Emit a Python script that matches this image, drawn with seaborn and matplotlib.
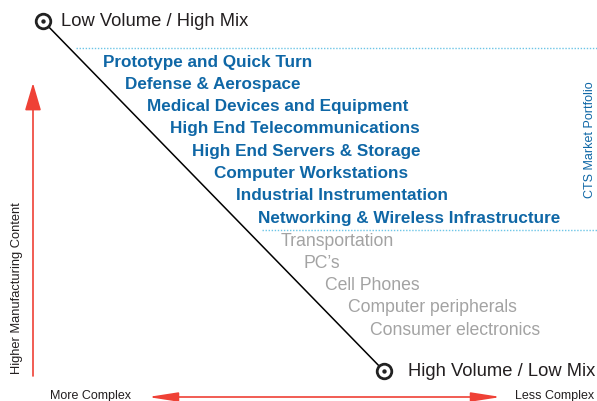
"""
CTS market portfolio diagram: volume/mix diagonal with market segments.
"""

import matplotlib
matplotlib.use("Agg")
import matplotlib.pyplot as plt
import seaborn as sns
import pandas as pd

sns.set_style("white")
plt.rcParams['font.family'] = ['Liberation Sans', 'DejaVu Sans']

# Data
portfolio_markets = ['Prototype and Quick Turn', 'Defense & Aerospace',
                     'Medical Devices and Equipment', 'High End Telecommunications',
                     'High End Servers & Storage', 'Computer Workstations',
                     'Industrial Instrumentation', 'Networking & Wireless Infrastructure']
other_markets = ['Transportation', "PC\u2019s", 'Cell Phones',
                 'Computer peripherals', 'Consumer electronics']
ends = ['Low Volume / High Mix', 'High Volume / Low Mix']
side_label = 'CTS Market Portfolio'
y_label = 'Higher Manufacturing Content'
x_labels = ['More Complex', 'Less Complex']

BLUE = '#0f67a6'
GRAY = '#a3a3a3'
RED = '#ef4136'
DOT = '#6cc5e6'

fig, ax = plt.subplots(figsize=(5.97, 4.01), dpi=100)
fig.subplots_adjust(0, 0, 1, 1)
ax.set_xlim(0, 597)
ax.set_ylim(401, 0)
ax.axis('off')

# diagonal between the two endpoints
diag = pd.DataFrame({'x': [43, 384], 'y': [21, 371], 'label': ends})
sns.lineplot(data=diag, x='x', y='y', color='black', linewidth=1.1, ax=ax, sort=False)
sns.scatterplot(data=diag, x='x', y='y', s=110, facecolor='white', edgecolor='#222222',
                linewidth=2.0, ax=ax, zorder=5)
sns.scatterplot(data=diag, x='x', y='y', s=10, color='#222222', linewidth=0, ax=ax, zorder=6)
for (_, r), dx in zip(diag.iterrows(), [18, 24]):
    ax.text(r.x + dx, r.y, r.label, fontsize=13.2, color='#231f20', va='center', ha='left')

# dotted separators
ax.plot([76, 597], [48, 48], linestyle=(0, (1, 1.2)), color=DOT, linewidth=1)
ax.plot([262, 597], [230, 230], linestyle=(0, (1, 1.2)), color=DOT, linewidth=1)

step_x, step_y = 22.2, 22.3
for i, name in enumerate(portfolio_markets):
    ax.text(103 + i * step_x, 62 + i * step_y, name, fontsize=12.3, fontweight='bold',
            color=BLUE, va='center', ha='left')
for i, name in enumerate(other_markets):
    ax.text(281 + i * step_x, 241 + i * step_y, name, fontsize=12.7, color=GRAY,
            va='center', ha='left')

ax.text(590, 140, side_label, rotation=90, fontsize=9, color=BLUE,
        va='center', ha='center')

# vertical arrow
ax.annotate('', xy=(33, 83), xytext=(33, 376),
            arrowprops=dict(arrowstyle='-|>,head_length=1.7,head_width=0.5',
                            color=RED, linewidth=1.2, shrinkA=0, shrinkB=0))
ax.text(17, 288, y_label, rotation=90, fontsize=9.3, color='#231f20',
        va='center', ha='center')

# horizontal double arrow
ax.annotate('', xy=(148, 397), xytext=(501, 397),
            arrowprops=dict(arrowstyle='<|-|>,head_length=1.8,head_width=0.28',
                            color=RED, linewidth=1.2, shrinkA=0, shrinkB=0))
ax.text(50, 396, x_labels[0], fontsize=9, color='#231f20', va='center', ha='left')
ax.text(515, 396, x_labels[1], fontsize=9, color='#231f20', va='center', ha='left')

fig.savefig('out.png', dpi=100)
